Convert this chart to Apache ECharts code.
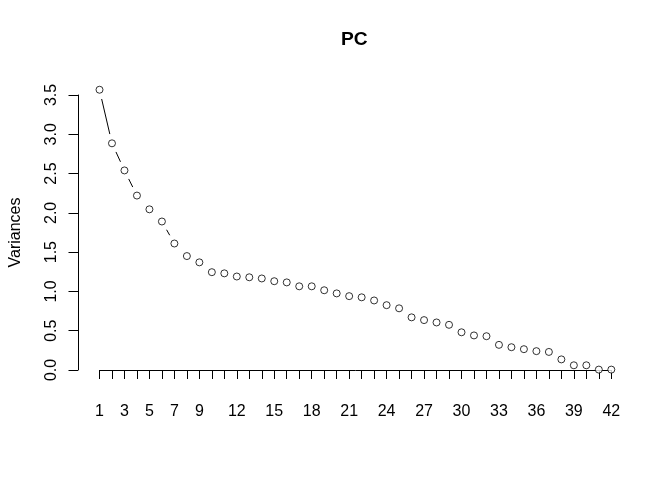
<!DOCTYPE html>
<html>
<head>
<meta charset="utf-8">
<script src="https://cdn.jsdelivr.net/npm/echarts@6/dist/echarts.min.js"></script>
<style>
html,body{margin:0;padding:0;background:#fff;}
#main{width:672px;height:480px;}
</style>
</head>
<body>
<div id="main"></div>
<script>
// Component index (x) and variances (y)
var components = [];
for (var k = 1; k <= 42; k++) components.push(k);
var variances = [3.567, 2.885, 2.54, 2.22, 2.045, 1.89, 1.61, 1.45, 1.37, 1.245,
  1.23, 1.19, 1.18, 1.165, 1.13, 1.115, 1.065, 1.065, 1.015, 0.975,
  0.94, 0.925, 0.885, 0.825, 0.785, 0.67, 0.635, 0.605, 0.575, 0.48,
  0.44, 0.43, 0.32, 0.29, 0.265, 0.24, 0.23, 0.135, 0.06, 0.06,
  0.005, 0.005];
var xTickLabels = [1, 3, 5, 7, 9, 12, 15, 18, 21, 24, 27, 30, 33, 36, 39, 42];
var yTicks = [0, 0.5, 1, 1.5, 2, 2.5, 3, 3.5];

var FONT = "'Liberation Sans', Arial, sans-serif";

var points = components.map(function (c, i) { return [c, variances[i]]; });
var segments = [];
for (var i = 0; i < components.length - 1; i++) {
  segments.push([components[i], variances[i], components[i + 1], variances[i + 1]]);
}

var chart = echarts.init(document.getElementById('main'), null, {renderer: 'canvas'});
chart.setOption({
  animation: false,
  backgroundColor: '#fff',
  title: {
    text: 'PC',
    left: 341,
    top: 30,
    padding: 0,
    textStyle: {fontFamily: FONT, fontSize: 19.2, fontWeight: 'bold', color: '#000'}
  },
  grid: {left: 99.5, right: 60.7, top: 95, bottom: 110, containLabel: false},
  xAxis: {
    type: 'value',
    min: 1, max: 42, interval: 1,
    position: 'bottom',
    offset: 12,
    axisLine: {show: true, lineStyle: {color: '#000', width: 1}},
    axisTick: {show: true, inside: false, length: 9, lineStyle: {color: '#000'}},
    splitLine: {show: false},
    axisLabel: {
      show: true, margin: 22, color: '#000', fontFamily: FONT, fontSize: 16,
      showMinLabel: true, showMaxLabel: true,
      formatter: function (v) { return xTickLabels.indexOf(Math.round(v)) >= 0 ? String(Math.round(v)) : ''; }
    }
  },
  yAxis: {
    type: 'value',
    min: 0, max: 3.5, interval: 0.5,
    position: 'left',
    offset: 21.5,
    name: 'Variances',
    nameLocation: 'middle',
    nameGap: 54,
    nameTextStyle: {fontFamily: FONT, fontSize: 16, color: '#000'},
    axisLine: {show: true, lineStyle: {color: '#000', width: 1}},
    axisTick: {show: true, inside: false, length: 9.5, lineStyle: {color: '#000'}},
    splitLine: {show: false},
    axisLabel: {
      show: true, rotate: 90, margin: 18, color: '#000', fontFamily: FONT, fontSize: 16,
      formatter: function (v) { return v.toFixed(1); }
    }
  },
  series: [
    {
      type: 'custom',
      clip: false,
      silent: true,
      data: segments,
      encode: {x: [0, 2], y: [1, 3]},
      renderItem: function (params, api) {
        var p1 = api.coord([api.value(0), api.value(1)]);
        var p2 = api.coord([api.value(2), api.value(3)]);
        var dx = p2[0] - p1[0], dy = p2[1] - p1[1];
        var d = Math.sqrt(dx * dx + dy * dy);
        var gap = 9.5;
        if (d <= 2 * gap) return null;
        var ux = dx / d, uy = dy / d;
        return {
          type: 'line',
          shape: {x1: p1[0] + ux * gap, y1: p1[1] + uy * gap, x2: p2[0] - ux * gap, y2: p2[1] - uy * gap},
          style: {stroke: '#000', lineWidth: 1}
        };
      }
    },
    {
      type: 'scatter',
      clip: false,
      silent: true,
      symbol: 'circle',
      symbolSize: 7,
      itemStyle: {color: '#fff', borderColor: '#000', borderWidth: 1},
      data: points
    }
  ]
});
</script>
</body>
</html>
